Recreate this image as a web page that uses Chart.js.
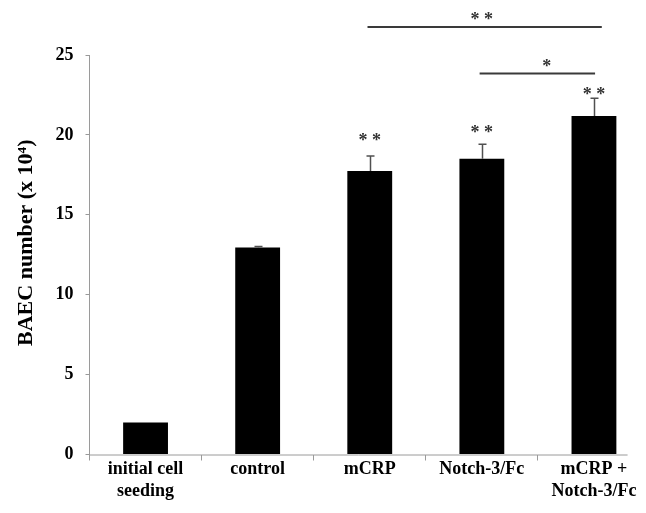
<!DOCTYPE html>
<html>
<head>
<meta charset="utf-8">
<script src="https://cdn.jsdelivr.net/npm/chart.js@4.4.1/dist/chart.umd.min.js"></script>
<style>
  html, body { margin: 0; padding: 0; background: #fff; overflow: hidden; }
  #wrap { width: 650px; height: 513px; position: relative; }
</style>
</head>
<body>
<div id="wrap"><canvas id="chart"></canvas></div>
<script>
const categories = [["initial cell", "seeding"], "control", "mCRP", "Notch-3/Fc", ["mCRP +", "Notch-3/Fc"]];
const cellCounts = [2.0, 12.95, 17.74, 18.51, 21.18];
const errorUpper = [0, 0.06, 0.94, 0.9, 1.12];
const barStars = ["", "", "**", "**", "**"];
const barStarLevel = [null, null, 19.9, 20.4, 22.77];
const yTicks = [0, 5, 10, 15, 20, 25];
const yTitle = "BAEC number (x 10⁴)";

// comparison brackets (positions in category-index units / y units)
const compareFrom = [1.98, 2.98];
const compareTo = [4.07, 4.01];
const compareLevel = [26.75, 23.84];
const compareLabel = ["**", "*"];
const compareLabelX = [3.0, 3.58];
const compareLabelLevel = [27.45, 24.56];

const AXIS_COLOR = "#9a9a9a";
const SERIF = "'Liberation Serif', 'Times New Roman', serif";

function drawStars(ctx, text, px, py) {
  ctx.fillText(text.split("").join(" "), px, py + 9.5);
}

const annotatePlugin = {
  id: "annotate",
  afterDatasetsDraw(chart) {
    const { ctx } = chart;
    const x = chart.scales.x;
    const y = chart.scales.y;
    ctx.save();

    // x axis line (stops short of the right edge, as in the figure)
    ctx.strokeStyle = AXIS_COLOR;
    ctx.lineWidth = 1;
    ctx.beginPath();
    ctx.moveTo(x.left, y.getPixelForValue(0) + 0.5);
    ctx.lineTo(x.getPixelForValue(4.3), y.getPixelForValue(0) + 0.5);
    ctx.stroke();

    // error bars (upper only)
    ctx.strokeStyle = "#505050";
    ctx.lineWidth = 1.5;
    cellCounts.forEach((v, i) => {
      if (!errorUpper[i]) return;
      const px = Math.round(x.getPixelForValue(i)) + 0.5;
      const base = y.getPixelForValue(v);
      const top = y.getPixelForValue(v + errorUpper[i]);
      ctx.beginPath();
      ctx.moveTo(px, base);
      ctx.lineTo(px, top);
      ctx.moveTo(px - 4, top);
      ctx.lineTo(px + 4, top);
      ctx.stroke();
    });

    // significance stars over bars
    ctx.fillStyle = "#333";
    ctx.font = `bold 18px ${SERIF}`;
    ctx.textAlign = "center";
    ctx.textBaseline = "alphabetic";
    barStars.forEach((s, i) => {
      if (!s) return;
      drawStars(ctx, s, x.getPixelForValue(i), y.getPixelForValue(barStarLevel[i]));
    });

    // comparison lines
    ctx.strokeStyle = "#3a3a3a";
    ctx.lineWidth = 2;
    compareLevel.forEach((lvl, k) => {
      const py = y.getPixelForValue(lvl);
      ctx.beginPath();
      ctx.moveTo(x.getPixelForValue(compareFrom[k]), py);
      ctx.lineTo(x.getPixelForValue(compareTo[k]), py);
      ctx.stroke();
      drawStars(ctx, compareLabel[k], x.getPixelForValue(compareLabelX[k]), y.getPixelForValue(compareLabelLevel[k]));
    });

    ctx.restore();
  },
  afterDraw(chart) {
    const { ctx } = chart;
    const y = chart.scales.y;
    ctx.save();
    ctx.translate(26, (y.top + y.bottom) / 2 - 12);
    ctx.rotate(-Math.PI / 2);
    ctx.fillStyle = "#000";
    ctx.font = `bold 22px ${SERIF}`;
    ctx.textAlign = "center";
    ctx.textBaseline = "middle";
    ctx.fillText(yTitle, 0, 0);
    ctx.restore();
  },
};

new Chart(document.getElementById("chart"), {
  type: "bar",
  data: {
    labels: categories,
    datasets: [
      {
        data: cellCounts,
        backgroundColor: "#000",
        borderWidth: 0,
        barPercentage: 1,
        categoryPercentage: 0.4,
      },
    ],
  },
  options: {
    responsive: true,
    maintainAspectRatio: false,
    animation: false,
    layout: { padding: { top: 55, left: 0, right: 0, bottom: 0 } },
    plugins: {
      legend: { display: false },
      tooltip: { enabled: false },
    },
    scales: {
      x: {
        afterFit(scale) {
          scale.height = 58.5;
        },
        border: { display: false },
        grid: {
          drawOnChartArea: false,
          color: AXIS_COLOR,
          tickLength: 6,
        },
        ticks: {
          color: "#000",
          padding: -2,
          maxRotation: 0,
          autoSkip: false,
          font: { family: SERIF, size: 18, weight: "bold" },
        },
      },
      y: {
        min: 0,
        max: 25,
        afterFit(scale) {
          scale.width = 89.5;
        },
        afterBuildTicks(scale) {
          scale.ticks = yTicks.map((v) => ({ value: v }));
        },
        border: { color: AXIS_COLOR, width: 1 },
        grid: {
          drawOnChartArea: false,
          color: AXIS_COLOR,
          tickLength: 4,
        },
        ticks: {
          color: "#000",
          padding: 12,
          font: { family: SERIF, size: 18, weight: "bold" },
        },
      },
    },
  },
  plugins: [annotatePlugin],
});
</script>
</body>
</html>
